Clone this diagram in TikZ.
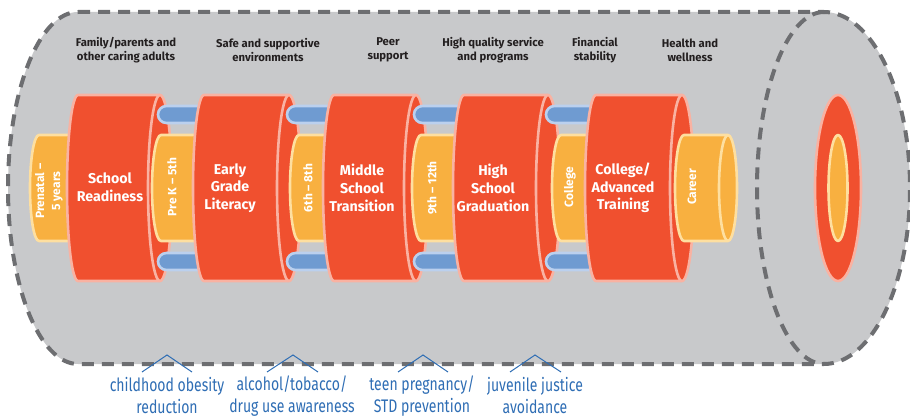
\documentclass[tikz,border=0pt]{standalone}
\usepackage{fontspec}
\setmainfont{Fira Sans}
\newfontfamily\condfont[FakeStretch=0.77]{Fira Sans}
\definecolor{bggray}{HTML}{C8C9CB}
\definecolor{dashgray}{HTML}{6D6E71}
\definecolor{cylred}{HTML}{F0502F}
\definecolor{cylpink}{HTML}{F9B2A2}
\definecolor{cylorange}{HTML}{F8B040}
\definecolor{cylyellow}{HTML}{FEDFA0}
\definecolor{barblue}{HTML}{6F9BD1}
\definecolor{barlight}{HTML}{BBD0EE}
\definecolor{labelblue}{HTML}{2E6DB4}
\definecolor{toptext}{HTML}{231F20}
\tikzset{
  outline/.style={draw=dashgray, line width=4pt, dash pattern=on 12pt off 8pt},
  redbody/.style={fill=cylred, draw=cylpink, line width=2.6pt, line join=round},
  redrim/.style={draw=cylpink, line width=2.6pt},
  orbody/.style={fill=cylorange, draw=cylyellow, line width=2.6pt, line join=round},
  orrim/.style={draw=cylyellow, line width=2.6pt},
  barbody/.style={fill=barblue, draw=barlight, line width=2.6pt},
  toplabel/.style={text=toptext, font=\fontsize{11.3}{14}\selectfont\bfseries, align=center},
  redlabel/.style={text=white, font=\fontsize{14.2}{17.7}\selectfont\bfseries, align=center},
  orlabel/.style={text=white, font=\fontsize{12}{16}\selectfont\bfseries, align=center, rotate=90},
  botlabel/.style={text=labelblue, font=\fontsize{18.2}{22}\condfont, align=center},
  caret/.style={draw=labelblue, line width=1pt}
}
\newcommand\redcyl[2]{%
  \path[redbody] (#1,95) -- (#2,95) arc[start angle=-90,end angle=90,x radius=12,y radius=93]
     -- (#1,281) arc[start angle=90,end angle=270,x radius=11,y radius=93] -- cycle;
  \draw[redrim] (#2,95) arc[start angle=-90,end angle=-270,x radius=12,y radius=93];
}
\newcommand\orcyl[2]{%
  \path[orbody] (#1,135) -- (#2,135) -- (#2,241) -- (#1,241)
     arc[start angle=90,end angle=270,x radius=9,y radius=53] -- cycle;
}
\newcommand\bars[2]{%
  \path[barbody, rounded corners=8.5pt] (#1,106) rectangle (#2,123);
  \path[barbody, rounded corners=8.5pt] (#1,253) rectangle (#2,270);
}
\begin{document}
\begin{tikzpicture}[x=1pt,y=-1pt]
\useasboundingbox (0,0) rectangle (910,417);
% big gray tube
\path[fill=bggray] (78,12) -- (824,12) arc[start angle=-90,end angle=90,x radius=86,y radius=176]
   -- (78,364) arc[start angle=90,end angle=270,x radius=70,y radius=176] -- cycle;
\path[outline] (78,12) -- (824,12) arc[start angle=-90,end angle=90,x radius=86,y radius=176]
   -- (78,364) arc[start angle=90,end angle=270,x radius=70,y radius=176] -- cycle;
\path[outline] (824,12) arc[start angle=-90,end angle=-270,x radius=67,y radius=176];
% end cap
\path[redbody] (838,188) ellipse[x radius=23, y radius=93];
\path[orbody] (838,188) ellipse[x radius=9.5, y radius=53];
% cylinders
\orcyl{39}{90}
\redcyl{78}{160}
\bars{158}{215}
\orcyl{161}{215}
\redcyl{204}{289}
\bars{287}{345}
\orcyl{299}{345}
\redcyl{334}{416}
\bars{414}{475}
\orcyl{421}{475}
\redcyl{464}{548}
\bars{546}{605}
\orcyl{561}{605}
\redcyl{596}{682}
\path[orbody] (684,135) -- (728,135) arc[start angle=-90,end angle=90,x radius=9,y radius=53]
   -- (684,241) arc[start angle=90,end angle=270,x radius=9,y radius=53] -- cycle;
\draw[orrim] (728,135) arc[start angle=-90,end angle=-270,x radius=9,y radius=53];
% red labels
\node[redlabel] (sr) at (110,187) {School\\Readiness};
\node[redlabel] (egl) at (230,188) {Early\\Grade\\Literacy};
\node[redlabel] (mst) at (362,188) {Middle\\School\\Transition};
\node[redlabel] (hsg) at (493,188) {High\\School\\Graduation};
\node[redlabel] (cat) at (623,188) {College/\\Advanced\\Training};
% orange labels
\node[orlabel] (pn) at (49,191) {Prenatal –\\5 years};
\node[orlabel] (pk) at (172,187) {Pre K – 5th};
\node[orlabel] (g68) at (308,188) {6th – 8th};
\node[orlabel] (g912) at (432,188) {9th – 12th};
\node[orlabel] (col) at (570,187) {College};
\node[orlabel] (car) at (692,187) {Career};
% top labels
\node[toplabel] (t1) at (126,50) {Family/parents and\\other caring adults};
\node[toplabel] (t2) at (268,50) {Safe and supportive\\environments};
\node[toplabel] (t3) at (388,50) {Peer\\support};
\node[toplabel] (t4) at (493,50) {High quality service\\and programs};
\node[toplabel] (t5) at (595,50) {Financial\\stability};
\node[toplabel] (t6) at (690,50) {Health and\\wellness};
% bottom labels with carets
\node[botlabel] (b1) at (167,396) {childhood obesity\\reduction};
\node[botlabel] (b2) at (292,396) {alcohol/tobacco/\\drug use awareness};
\node[botlabel] (b3) at (422,396) {teen pregnancy/\\STD prevention};
\node[botlabel] (b4) at (535,396) {juvenile justice\\avoidance};
\coordinate (c1l) at (142,372); \coordinate (c1t) at (167,355); \coordinate (c1r) at (192,372);
\coordinate (c2l) at (267,372); \coordinate (c2t) at (293,355); \coordinate (c2r) at (318,372);
\coordinate (c3l) at (398,372); \coordinate (c3t) at (423,355); \coordinate (c3r) at (448,372);
\coordinate (c4l) at (510,372); \coordinate (c4t) at (535,355); \coordinate (c4r) at (561,372);
\draw[caret] (c1l) -- (c1t) -- (c1r);
\draw[caret] (c2l) -- (c2t) -- (c2r);
\draw[caret] (c3l) -- (c3t) -- (c3r);
\draw[caret] (c4l) -- (c4t) -- (c4r);
\end{tikzpicture}
\end{document}
